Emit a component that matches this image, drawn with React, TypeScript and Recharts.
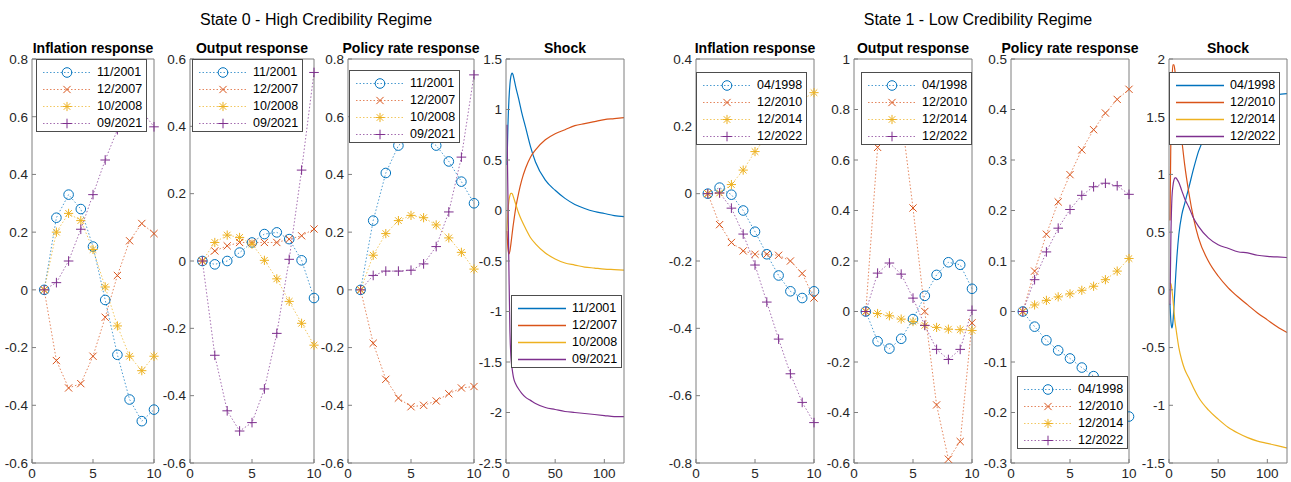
import React from "react";
import { LineChart, Line, XAxis, YAxis, Legend } from "recharts";

const COLORS = ["#0072BD", "#D95319", "#EDB120", "#7E2F8E"];
const MARKERS = ["circle", "x", "star", "plus"];

// horizons for the impulse responses
const steps = [1, 2, 3, 4, 5, 6, 7, 8, 9, 10];
const respTicksX = [0, 5, 10];
// horizons sampled for the shock paths
const shockX = [1, 2, 3, 4, 5, 6, 7, 8, 10, 13, 16, 20, 25, 30, 40, 50, 60, 70, 80, 90, 100, 110, 120];
const shockTicksX = [0, 50, 100];

const s0Labels = ["11/2001", "12/2007", "10/2008", "09/2021"];
const s1Labels = ["04/1998", "12/2010", "12/2014", "12/2022"];

// State 0 - high credibility
const s0Inflation = [
  [0, 0.25, 0.33, 0.28, 0.15, -0.035, -0.225, -0.38, -0.455, -0.415],
  [0, -0.245, -0.34, -0.325, -0.23, -0.095, 0.05, 0.17, 0.23, 0.195],
  [0, 0.2, 0.265, 0.24, 0.14, 0.01, -0.125, -0.23, -0.28, -0.23],
  [0, 0.025, 0.1, 0.21, 0.33, 0.45, 0.555, 0.61, 0.62, 0.565],
];
const s0Output = [
  [0, -0.01, 0, 0.025, 0.055, 0.08, 0.085, 0.065, 0.002, -0.11],
  [0, 0.03, 0.045, 0.055, 0.055, 0.055, 0.055, 0.065, 0.075, 0.095],
  [0, 0.055, 0.077, 0.07, 0.05, 0.002, -0.053, -0.12, -0.185, -0.25],
  [0, -0.28, -0.445, -0.505, -0.48, -0.38, -0.215, 0.005, 0.27, 0.56],
];
const s0Policy = [
  [0, 0.24, 0.405, 0.5, 0.535, 0.53, 0.5, 0.445, 0.375, 0.3],
  [0, -0.185, -0.31, -0.375, -0.405, -0.4, -0.385, -0.36, -0.34, -0.335],
  [0, 0.12, 0.195, 0.24, 0.258, 0.25, 0.225, 0.18, 0.13, 0.072],
  [0, 0.05, 0.065, 0.065, 0.068, 0.09, 0.15, 0.27, 0.46, 0.745],
];
const s0Shock = [
  [0.45, 0.85, 1.1, 1.25, 1.33, 1.36, 1.35, 1.31, 1.22, 1.1, 0.97, 0.82, 0.63, 0.48, 0.3, 0.2, 0.12, 0.06, 0.02, -0.01, -0.03, -0.05, -0.06],
  [-0.2, -0.38, -0.43, -0.4, -0.33, -0.25, -0.17, -0.1, 0.03, 0.18, 0.3, 0.42, 0.53, 0.6, 0.7, 0.76, 0.8, 0.84, 0.86, 0.88, 0.9, 0.91, 0.92],
  [-0.2, 0.0, 0.1, 0.15, 0.17, 0.17, 0.15, 0.12, 0.06, -0.03, -0.1, -0.18, -0.27, -0.33, -0.42, -0.48, -0.52, -0.54, -0.56, -0.57, -0.58, -0.585, -0.59],
  [0.85, 0.1, -0.6, -1.2, -1.45, -1.55, -1.62, -1.67, -1.72, -1.77, -1.81, -1.85, -1.88, -1.91, -1.95, -1.97, -1.99, -2.0, -2.01, -2.02, -2.03, -2.04, -2.04],
];

// State 1 - low credibility
const s1Inflation = [
  [0, 0.018, -0.003, -0.05, -0.113, -0.18, -0.243, -0.29, -0.31, -0.29],
  [0, -0.092, -0.145, -0.17, -0.18, -0.18, -0.183, -0.2, -0.237, -0.31],
  [0, 0.002, 0.027, 0.07, 0.125, 0.17, 0.21, 0.25, 0.28, 0.3],
  [0, 0.002, -0.043, -0.12, -0.212, -0.322, -0.432, -0.535, -0.62, -0.68],
];
const s1Output = [
  [0, -0.118, -0.147, -0.108, -0.03, 0.062, 0.145, 0.195, 0.185, 0.09],
  [0, 0.65, 0.85, 0.78, 0.41, 0.0, -0.37, -0.585, -0.515, -0.045],
  [0, -0.008, -0.017, -0.03, -0.04, -0.055, -0.063, -0.07, -0.072, -0.075],
  [0, 0.152, 0.192, 0.148, 0.053, -0.055, -0.15, -0.19, -0.15, 0.005],
];
const s1Policy = [
  [0, -0.03, -0.057, -0.077, -0.093, -0.111, -0.128, -0.15, -0.18, -0.208],
  [0, 0.08, 0.153, 0.217, 0.271, 0.32, 0.36, 0.393, 0.42, 0.44],
  [0, 0.013, 0.022, 0.029, 0.035, 0.042, 0.05, 0.063, 0.08, 0.105],
  [0, 0.063, 0.118, 0.165, 0.202, 0.23, 0.247, 0.254, 0.249, 0.232],
];
const s1Shock = [
  [-0.12, -0.28, -0.33, -0.28, -0.15, 0.0, 0.15, 0.28, 0.48, 0.65, 0.75, 0.88, 1.05, 1.2, 1.38, 1.48, 1.55, 1.6, 1.63, 1.65, 1.67, 1.69, 1.7],
  [0.6, 1.4, 1.8, 1.95, 1.95, 1.9, 1.82, 1.72, 1.52, 1.3, 1.08, 0.85, 0.62, 0.45, 0.25, 0.12, 0.02, -0.06, -0.13, -0.2, -0.26, -0.32, -0.37],
  [0.06, 0.05, 0.0, -0.08, -0.18, -0.27, -0.33, -0.39, -0.5, -0.61, -0.69, -0.76, -0.85, -0.93, -1.04, -1.12, -1.19, -1.24, -1.28, -1.31, -1.33, -1.35, -1.37],
  [-0.13, 0.5, 0.8, 0.9, 0.95, 0.97, 0.97, 0.96, 0.93, 0.86, 0.79, 0.72, 0.62, 0.55, 0.45, 0.39, 0.36, 0.33, 0.32, 0.3, 0.29, 0.285, 0.28],
];

const ticksA = [-0.6, -0.4, -0.2, 0, 0.2, 0.4, 0.6, 0.8];
const ticksB = [-0.6, -0.4, -0.2, 0, 0.2, 0.4, 0.6];
const ticksShock0 = [-2.5, -2, -1.5, -1, -0.5, 0, 0.5, 1, 1.5];
const ticksC = [-0.8, -0.6, -0.4, -0.2, 0, 0.2, 0.4];
const ticksD = [-0.6, -0.4, -0.2, 0, 0.2, 0.4, 0.6, 0.8, 1];
const ticksE = [-0.3, -0.2, -0.1, 0, 0.1, 0.2, 0.3, 0.4, 0.5];
const ticksShock1 = [-1.5, -1, -0.5, 0, 0.5, 1, 1.5, 2];

const FONT = "'Liberation Sans', Arial, Helvetica, sans-serif";
const AXIS = "#7f7f7f";
const TOP = 59;
const PH = 404;
const YW = 40;
const M = 12;

const fmt = (v: number) => String(parseFloat(v.toFixed(2)));

function Marker({ kind, cx, cy, color }: { kind: string; cx: number; cy: number; color: string }) {
  if (cx == null || cy == null) return null;
  if (kind === "circle") {
    return <circle cx={cx} cy={cy} r={4.8} fill="none" stroke={color} strokeWidth={1} />;
  }
  let d = "";
  if (kind === "x") {
    const s = 3.6;
    d = `M${cx - s},${cy - s}L${cx + s},${cy + s}M${cx - s},${cy + s}L${cx + s},${cy - s}`;
  } else if (kind === "plus") {
    const s = 4.8;
    d = `M${cx - s},${cy}L${cx + s},${cy}M${cx},${cy - s}L${cx},${cy + s}`;
  } else {
    const s = 4.6;
    const t = 3.3;
    d = `M${cx - s},${cy}L${cx + s},${cy}M${cx},${cy - s}L${cx},${cy + s}` +
      `M${cx - t},${cy - t}L${cx + t},${cy + t}M${cx - t},${cy + t}L${cx + t},${cy - t}`;
  }
  return <path d={d} stroke={color} strokeWidth={1} fill="none" />;
}

function LegendBox({ labels, shock }: { labels: string[]; shock?: boolean }) {
  return (
    <div
      style={{
        width: 111,
        height: 73,
        boxSizing: "border-box",
        border: "1px solid #4d4d4d",
        background: "#fff",
        paddingTop: 4,
        fontFamily: FONT,
      }}
    >
      {labels.map((lab, k) => (
        <div key={lab} style={{ display: "flex", alignItems: "center", height: 17 }}>
          <svg width={60} height={17} style={{ display: "block" }}>
            <line
              x1={6}
              x2={54}
              y1={8.5}
              y2={8.5}
              stroke={COLORS[k]}
              strokeWidth={shock ? 1.3 : 1}
              strokeDasharray={shock ? undefined : "1.5 2"}
              strokeOpacity={shock ? 1 : 0.7}
            />
            {!shock && <Marker kind={MARKERS[k]} cx={30} cy={8.5} color={COLORS[k]} />}
          </svg>
          <span style={{ fontSize: 12.5, color: "#000", lineHeight: "17px" }}>{lab}</span>
        </div>
      ))}
    </div>
  );
}

type PanelProps = {
  left: number;
  width: number;
  title: string;
  xs: number[];
  series: number[][];
  labels: string[];
  xDomain: [number, number];
  xTicks: number[];
  yDomain: [number, number];
  yTicks: number[];
  legendPos: [number, number];
  shock?: boolean;
};

function Panel(p: PanelProps) {
  const rows = p.xs.map((x, i) => {
    const r: Record<string, number> = { x };
    p.series.forEach((s, k) => {
      r["s" + k] = s[i];
    });
    return r;
  });
  const chartLeft = p.left - YW;
  const chartTop = TOP - M;
  const axisLine = { stroke: AXIS, strokeWidth: 1 };
  return (
    <>
      <div
        style={{
          position: "absolute",
          left: p.left + p.width / 2 - 100,
          width: 200,
          top: 41,
          textAlign: "center",
          fontWeight: "bold",
          fontSize: 14,
          lineHeight: "14px",
          whiteSpace: "nowrap",
          color: "#000",
        }}
      >
        {p.title}
      </div>
      <div style={{ position: "absolute", left: chartLeft, top: chartTop }}>
        <LineChart
          width={YW + p.width + M}
          height={M + PH + 20}
          data={rows}
          margin={{ top: M - 1, right: M - 1, left: 0, bottom: 0 }}
        >
          <XAxis
            dataKey="x"
            type="number"
            domain={p.xDomain}
            ticks={p.xTicks}
            interval={0}
            height={20}
            axisLine={axisLine}
            tickLine={axisLine}
            tickSize={-4}
            tickMargin={9}
            tick={{ fontSize: 13.5, fill: "#262626" }}
          />
          <XAxis
            xAxisId="top"
            orientation="top"
            dataKey="x"
            type="number"
            domain={p.xDomain}
            ticks={p.xTicks}
            interval={0}
            allowDataOverflow
            height={1}
            axisLine={axisLine}
            tickLine={axisLine}
            tickSize={-4}
            tick={false}
          />
          <YAxis
            type="number"
            domain={p.yDomain}
            ticks={p.yTicks}
            interval={0}
            width={YW}
            axisLine={axisLine}
            tickLine={axisLine}
            tickSize={-4}
            tickMargin={8}
            tickFormatter={fmt}
            tick={{ fontSize: 13.5, fill: "#262626" }}
          />
          <YAxis
            yAxisId="right"
            orientation="right"
            type="number"
            domain={p.yDomain}
            ticks={p.yTicks}
            interval={0}
            allowDataOverflow
            width={1}
            axisLine={axisLine}
            tickLine={axisLine}
            tickSize={-4}
            tick={false}
          />
          {/* invisible series tying the mirrored box axes to the data */}
          <Line
            xAxisId="top"
            yAxisId="right"
            dataKey="s0"
            stroke="none"
            dot={false}
            activeDot={false}
            legendType="none"
            isAnimationActive={false}
          />
          {p.series.map((_, k) =>
            p.shock ? (
              <Line
                key={k}
                dataKey={"s" + k}
                type="monotone"
                stroke={COLORS[k]}
                strokeWidth={1.2}
                dot={false}
                activeDot={false}
                isAnimationActive={false}
              />
            ) : (
              <Line
                key={k}
                dataKey={"s" + k}
                type="linear"
                stroke={COLORS[k]}
                strokeWidth={1}
                strokeDasharray="1.5 2"
                strokeOpacity={0.7}
                dot={(d: any) => (
                  <Marker key={"m" + k + "-" + d.index} kind={MARKERS[k]} cx={d.cx} cy={d.cy} color={COLORS[k]} />
                )}
                activeDot={false}
                isAnimationActive={false}
              />
            )
          )}
          <Legend
            layout="vertical"
            align="center"
            verticalAlign="middle"
            wrapperStyle={{
              left: p.legendPos[0] - chartLeft,
              top: p.legendPos[1] - chartTop,
              width: 111,
              height: 73,
            }}
            content={() => <LegendBox labels={p.labels} shock={p.shock} />}
          />
        </LineChart>
      </div>
    </>
  );
}

export default function App() {
  return (
    <div
      style={{
        position: "absolute",
        left: 0,
        top: 0,
        width: 1291,
        height: 482,
        background: "#fff",
        fontFamily: FONT,
      }}
    >
      <div style={{ position: "absolute", left: 166, width: 300, top: 12, textAlign: "center", fontSize: 16, lineHeight: "16px", whiteSpace: "nowrap" }}>
        State 0 - High Credibility Regime
      </div>
      <div style={{ position: "absolute", left: 828, width: 300, top: 12, textAlign: "center", fontSize: 16, lineHeight: "16px", whiteSpace: "nowrap" }}>
        State 1 - Low Credibility Regime
      </div>

      <Panel left={32} width={122} title="Inflation response" xs={steps} series={s0Inflation} labels={s0Labels}
        xDomain={[0, 10]} xTicks={respTicksX} yDomain={[-0.6, 0.8]} yTicks={ticksA} legendPos={[36, 59]} />
      <Panel left={190} width={124} title="Output response" xs={steps} series={s0Output} labels={s0Labels}
        xDomain={[0, 10]} xTicks={respTicksX} yDomain={[-0.6, 0.6]} yTicks={ticksB} legendPos={[192, 59]} />
      <Panel left={348} width={126} title="Policy rate response" xs={steps} series={s0Policy} labels={s0Labels}
        xDomain={[0, 10]} xTicks={respTicksX} yDomain={[-0.6, 0.8]} yTicks={ticksA} legendPos={[349, 70]} />
      <Panel left={506} width={118} title="Shock" xs={shockX} series={s0Shock} labels={s0Labels} shock
        xDomain={[0, 120]} xTicks={shockTicksX} yDomain={[-2.5, 1.5]} yTicks={ticksShock0} legendPos={[511, 295]} />

      <Panel left={696} width={118} title="Inflation response" xs={steps} series={s1Inflation} labels={s1Labels}
        xDomain={[0, 10]} xTicks={respTicksX} yDomain={[-0.8, 0.4]} yTicks={ticksC} legendPos={[696, 72]} />
      <Panel left={854} width={118} title="Output response" xs={steps} series={s1Output} labels={s1Labels}
        xDomain={[0, 10]} xTicks={respTicksX} yDomain={[-0.6, 1]} yTicks={ticksD} legendPos={[861, 72]} />
      <Panel left={1011} width={118} title="Policy rate response" xs={steps} series={s1Policy} labels={s1Labels}
        xDomain={[0, 10]} xTicks={respTicksX} yDomain={[-0.3, 0.5]} yTicks={ticksE} legendPos={[1017, 376]} />
      <Panel left={1169} width={118} title="Shock" xs={shockX} series={s1Shock} labels={s1Labels} shock
        xDomain={[0, 120]} xTicks={shockTicksX} yDomain={[-1.5, 2]} yTicks={ticksShock1} legendPos={[1169, 72]} />
    </div>
  );
}
